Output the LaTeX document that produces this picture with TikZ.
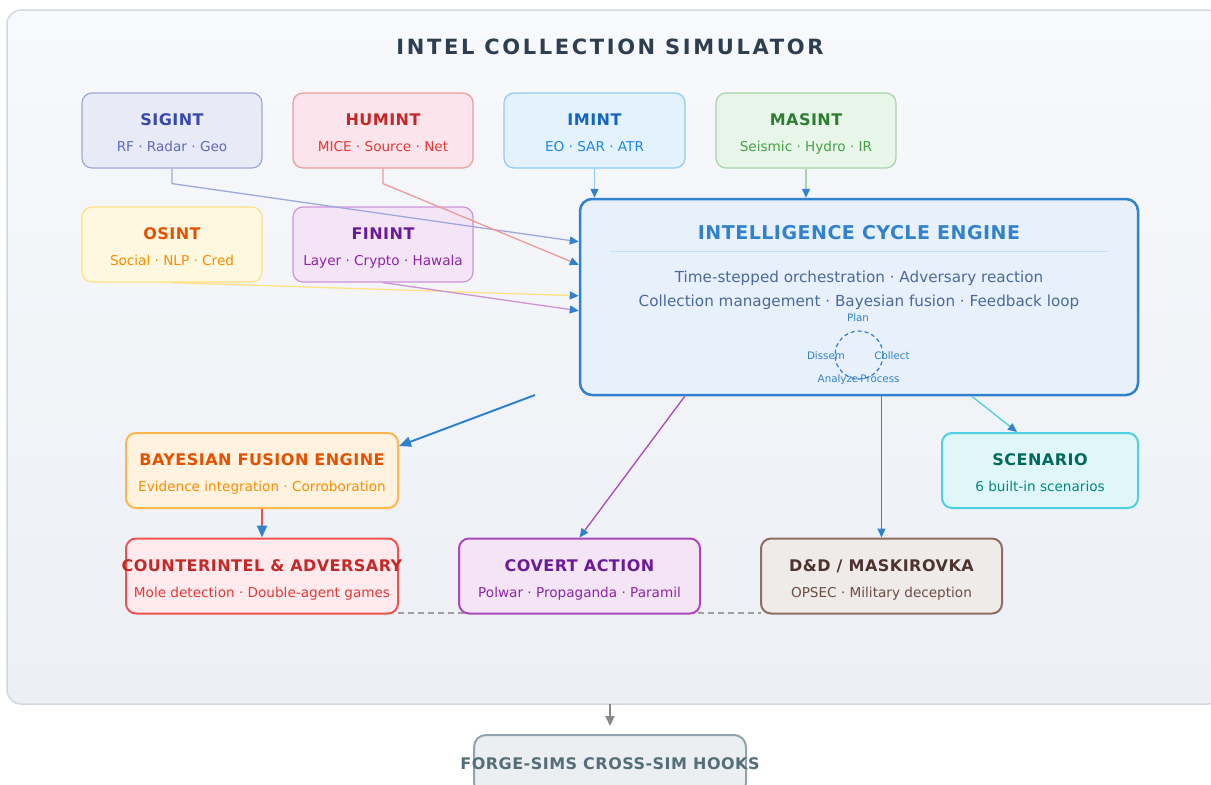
\documentclass[tikz,border=0pt]{standalone}
\usepackage{fontspec}
\setmainfont{DejaVu Sans}
\newfontfamily\mainT[LetterSpace=12.5]{DejaVu Sans}
\newfontfamily\boxT[LetterSpace=3]{DejaVu Sans}
\newfontfamily\engTf[LetterSpace=2.6]{DejaVu Sans}
\usetikzlibrary{arrows.meta,calc}
\definecolor{frameB}{HTML}{D0D8E2}
\definecolor{bgTop}{HTML}{F7F9FC}
\definecolor{bgBot}{HTML}{ECEFF4}
\definecolor{ttlC}{HTML}{2C3E50}
\definecolor{engB}{HTML}{3182CE}
\definecolor{engF}{HTML}{E8F0FC}
\definecolor{engT}{HTML}{4A6A9C}
\definecolor{engSep}{HTML}{BEE3F8}
% sources
\definecolor{sigF}{HTML}{E8EAF6}\definecolor{sigB}{HTML}{9FA8DA}\definecolor{sigT}{HTML}{3949AB}\definecolor{sigS}{HTML}{5C6BC0}
\definecolor{humF}{HTML}{FCE4EC}\definecolor{humB}{HTML}{EF9A9A}\definecolor{humT}{HTML}{C62828}\definecolor{humS}{HTML}{E53935}
\definecolor{imiF}{HTML}{E3F2FD}\definecolor{imiB}{HTML}{90CAF9}\definecolor{imiT}{HTML}{1565C0}\definecolor{imiS}{HTML}{1E88E5}
\definecolor{masF}{HTML}{E8F5E9}\definecolor{masB}{HTML}{A5D6A7}\definecolor{masT}{HTML}{2E7D32}\definecolor{masS}{HTML}{43A047}
\definecolor{osiF}{HTML}{FFF8E1}\definecolor{osiB}{HTML}{FFE082}\definecolor{osiT}{HTML}{E65100}\definecolor{osiS}{HTML}{FB8C00}
\definecolor{finF}{HTML}{F3E5F5}\definecolor{finB}{HTML}{CE93D8}\definecolor{finT}{HTML}{6A1B9A}\definecolor{finS}{HTML}{8E24AA}
% lower
\definecolor{bayF}{HTML}{FFF3E0}\definecolor{bayB}{HTML}{FFB74D}\definecolor{bayT}{HTML}{E65100}\definecolor{bayS}{HTML}{FB8C00}
\definecolor{ciF}{HTML}{FFEBEE}\definecolor{ciB}{HTML}{EF5350}\definecolor{ciT}{HTML}{C62828}\definecolor{ciS}{HTML}{E53935}
\definecolor{caF}{HTML}{F3E5F5}\definecolor{caB}{HTML}{AB47BC}\definecolor{caT}{HTML}{6A1B9A}\definecolor{caS}{HTML}{8E24AA}
\definecolor{ddF}{HTML}{EFEBE9}\definecolor{ddB}{HTML}{8D6E63}\definecolor{ddT}{HTML}{4E342E}\definecolor{ddS}{HTML}{6D4C41}
\definecolor{scF}{HTML}{E0F7FA}\definecolor{scB}{HTML}{4DD0E1}\definecolor{scT}{HTML}{00695C}\definecolor{scS}{HTML}{00897B}
\definecolor{ftF}{HTML}{ECEFF1}\definecolor{ftB}{HTML}{90A4AE}\definecolor{ftT}{HTML}{546E7A}
\definecolor{dashC}{HTML}{A0A0A0}
\definecolor{grayA}{HTML}{888888}

\newcommand\ibox[8]{%
  \node[ibx, minimum width=#4, line width=#5, fill=#6F, draw=#6B] (#1) at (#2,#3) {};
  \node[ibttl, text=#6T] (#1t) at (#2,{#3-7.5}) {#7};
  \node[ibsub, text=#6S] (#1s) at (#2,{#3+18.5}) {#8};
}

\begin{document}
\begin{tikzpicture}[x=1pt,y=-1pt,
  ibx/.style={rectangle, rounded corners=10pt, minimum height=75pt, inner sep=0pt},
  ibttl/.style={font=\fontsize{16}{19}\boxT\bfseries, anchor=mid, inner sep=0pt},
  ibsub/.style={font=\fontsize{13.6}{16}\selectfont, anchor=mid, inner sep=0pt},
  cyc/.style={font=\fontsize{10.3}{12}\selectfont, text=engB, anchor=mid, inner sep=0pt},
  arr/.style={-{Triangle[length=9pt,width=8pt,color=engB]}, line width=1.3pt},
  arrB/.style={-{Triangle[length=12pt,width=10pt,color=engB]}, line width=2pt}]
\useasboundingbox (0,0) rectangle (1211,785);
\fill[white] (0,0) rectangle (1211,785);
% outer frame
\node[rectangle, rounded corners=14pt, draw=frameB, line width=1.5pt, top color=bgTop, bottom color=bgBot,
  minimum width=1215pt, minimum height=694pt, inner sep=0pt] (frame) at (614.5,357) {};
\node[font=\fontsize{21}{25}\mainT\bfseries, text=ttlC, anchor=mid, inner sep=0pt] (title) at (610,52) {INTEL COLLECTION SIMULATOR};

% dashed link behind
\coordinate (dA) at (398,613);
\coordinate (dB) at (761,613);
\draw[dashC, line width=1.2pt, dash pattern=on 6pt off 4pt] (dA) -- (dB);

% source boxes
\ibox{sig}{172}{130.5}{180pt}{1.2pt}{sig}{SIGINT}{RF · Radar · Geo}
\ibox{hum}{383}{130.5}{180pt}{1.2pt}{hum}{HUMINT}{MICE · Source · Net}
\ibox{imi}{594.5}{130.5}{181pt}{1.2pt}{imi}{IMINT}{EO · SAR · ATR}
\ibox{mas}{806}{130.5}{180pt}{1.2pt}{mas}{MASINT}{Seismic · Hydro · IR}
\ibox{osi}{172}{244.5}{180pt}{1.2pt}{osi}{OSINT}{Social · NLP · Cred}
\ibox{fin}{383}{244.5}{180pt}{1.2pt}{fin}{FININT}{Layer · Crypto · Hawala}

% engine
\node[rectangle, rounded corners=12pt, line width=2.5pt, draw=engB, fill=engF,
  minimum width=558pt, minimum height=196pt, inner sep=0pt] (eng) at (859,297) {};
\node[font=\fontsize{19}{23}\engTf\bfseries, text=engB, anchor=mid, inner sep=0pt] (engt) at (859,237) {INTELLIGENCE CYCLE ENGINE};
\coordinate (sepL) at (610,251);
\coordinate (sepR) at (1107,251);
\draw[engSep, line width=1pt] (sepL) -- (sepR);
\node[font=\fontsize{15.2}{18}\selectfont, text=engT, anchor=mid, inner sep=0pt] (engl1) at (859,280) {Time-stepped orchestration · Adversary reaction};
\node[font=\fontsize{15.2}{18}\selectfont, text=engT, anchor=mid, inner sep=0pt] (engl2) at (859,304) {Collection management · Bayesian fusion · Feedback loop};
\node[circle, draw=engB, line width=1.2pt, dash pattern=on 4pt off 3pt, minimum size=48pt, inner sep=0pt] (cycle) at (859,355) {};
\node[cyc] (cplan) at (858,318.5) {Plan};
\node[cyc] (ccol) at (892,356.5) {Collect};
\node[cyc] (cproc) at (880,379.5) {Process};
\node[cyc] (cana) at (838,379.5) {Analyze};
\node[cyc] (cdis) at (826,356.5) {Dissem};

% source arrows
\draw[arr, sigB] (sig.south) -- ++(0,15) -- ($(eng.north west)+(0,44)$);
\draw[arr, humB] (hum.south) -- ++(0,15) -- ($(eng.north west)+(0,67)$);
\draw[arr, osiB] (osi.south) -- ($(eng.north west)+(0,98)$);
\draw[arr, finB] (fin.south) -- ($(eng.north west)+(0,113)$);
\draw[arr, imiB] (imi.south) -- (imi.south |- eng.north);
\draw[arr, masB] (mas.south) -- (mas.south |- eng.north);

% lower boxes
\ibox{bay}{262}{470.5}{272pt}{2pt}{bay}{BAYESIAN FUSION ENGINE}{Evidence integration · Corroboration}
\ibox{ci}{262}{576}{272pt}{2pt}{ci}{COUNTERINTEL \& ADVERSARY}{Mole detection · Double-agent games}
\ibox{ca}{579.5}{576}{241pt}{2pt}{ca}{COVERT ACTION}{Polwar · Propaganda · Paramil}
\ibox{dd}{881.5}{576}{241pt}{2pt}{dd}{D\&D / MASKIROVKA}{OPSEC · Military deception}
\ibox{sc}{1040}{470.5}{196pt}{2pt}{sc}{SCENARIO}{6 built-in scenarios}

% lower arrows
\coordinate (bstart) at (535,395);
\draw[arrB, engB] (bstart) -- ($(bay.north east)+(0,14)$);
\draw[arrB, ciB] (bay.south) -- (ci.north);
\draw[arr, caB] ($(eng.south west)+(106,0)$) -- (ca.north);
\draw[arr, ddB] (dd.north |- eng.south) -- (dd.north);
\draw[arr, scB] ($(eng.south west)+(393,0)$) -- ($(sc.north)+(-23,0)$);

% footer
\node[rectangle, rounded corners=12pt, draw=ftB, fill=ftF, line width=2pt,
  minimum width=272pt, minimum height=60pt, inner sep=0pt] (foot) at (610,765) {};
\node[font=\fontsize{16}{19}\boxT\bfseries, text=ftT, anchor=mid, inner sep=0pt] (foott) at (610,767) {FORGE-SIMS CROSS-SIM HOOKS};
\coordinate (fstart) at (610,704);
\draw[-{Triangle[length=10pt,width=9pt]}, grayA, line width=2pt] (fstart) -- ($(foot.north)+(0,-8)$);
\end{tikzpicture}
\end{document}
